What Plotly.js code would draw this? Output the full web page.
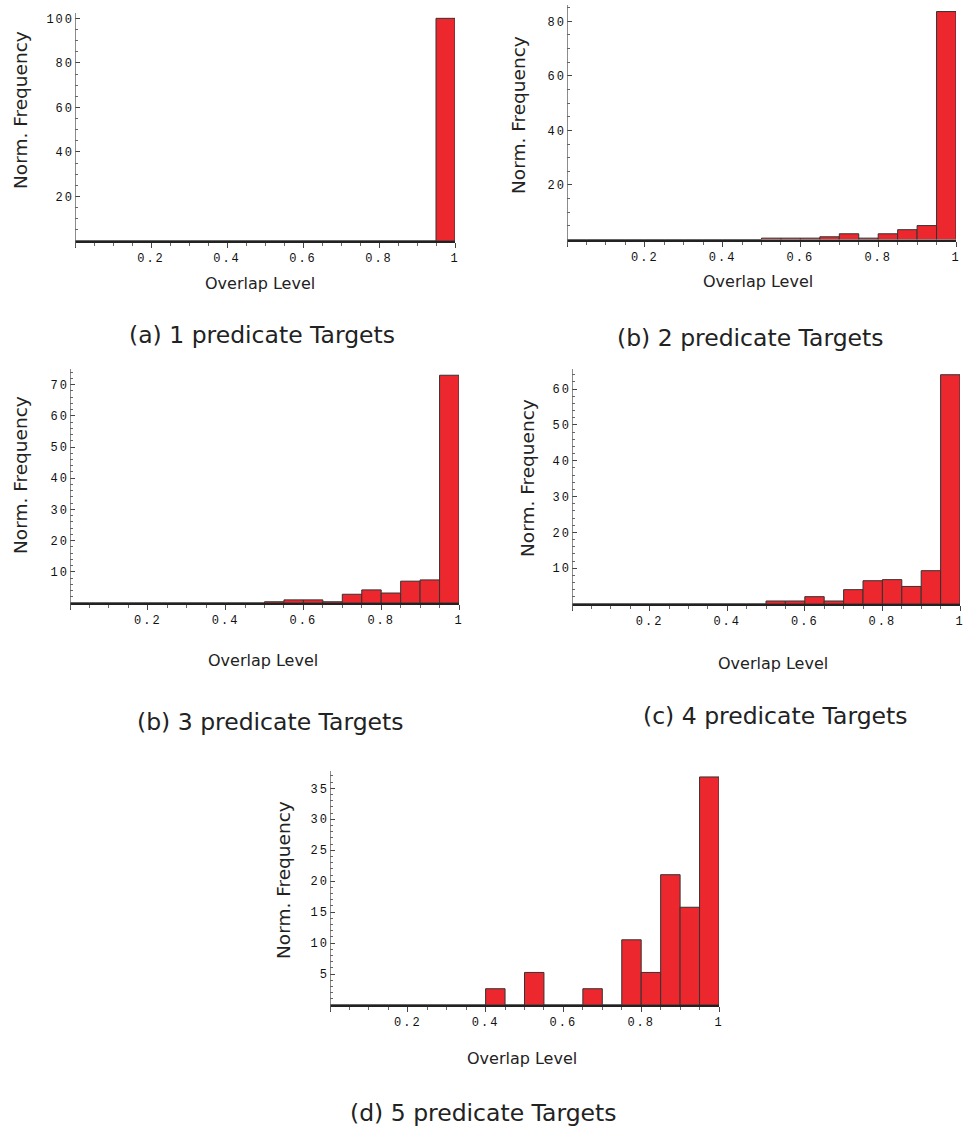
<!DOCTYPE html>
<html>
<head>
<meta charset="utf-8">
<script src="https://cdn.plot.ly/plotly-3.0.1.min.js"></script>
<style>
body{margin:0;padding:0;background:#fff;}
#chart{width:966px;height:1130px;}
.xtick text, .ytick text, .x2tick text, .y2tick text, .x3tick text, .y3tick text, .x4tick text, .y4tick text, .x5tick text, .y5tick text {letter-spacing:2px;}
</style>
</head>
<body>
<div id="chart"></div>
<script>
// Bin left edges (overlap level), width 0.05
const binStarts = [0.00,0.05,0.10,0.15,0.20,0.25,0.30,0.35,0.40,0.45,0.50,0.55,0.60,0.65,0.70,0.75,0.80,0.85,0.90,0.95];

// Normalized frequency per bin (percent)
const pred1 = [0,0,0,0,0,0,0,0,0,0,0,0,0,0,0,0,0,0,0,100];
const pred2 = [0,0,0,0,0,0,0,0,0,0,0.5,0.5,0.5,1.0,2.1,0.5,2.1,3.6,5.1,83.6];
const pred3 = [0,0,0,0,0,0,0,0,0,0,0.4,1.0,1.0,0.4,2.8,4.2,3.2,7.0,7.4,73.0];
const pred4 = [0,0,0,0,0,0,0,0,0,0,0.84,0.84,2.05,0.84,4.0,6.5,6.8,4.9,9.3,64.0];
const pred5 = [0,0,0,0,0,0,0,0,2.63,0,5.26,0,0,2.63,0,10.53,5.26,21.05,15.79,36.84];

const xTickVals = [0,0.2,0.4,0.6,0.8,1];
const xTickText = ['','0.2','0.4','0.6','0.8','1'];

const captions = ['(a) 1 predicate Targets','(b) 2 predicate Targets','(b) 3 predicate Targets','(c) 4 predicate Targets','(d) 5 predicate Targets'];
const xTitle = 'Overlap Level';
const yTitle = 'Norm. Frequency';

const yTickSets = [
  {vals:[0,20,40,60,80,100], minor:5, top:102.4},
  {vals:[0,20,40,60,80], minor:5, top:86},
  {vals:[0,10,20,30,40,50,60,70], minor:2, top:75},
  {vals:[0,10,20,30,40,50,60], minor:2, top:65.6},
  {vals:[0,5,10,15,20,25,30,35], minor:1, top:37.8}
];
const series = [pred1,pred2,pred3,pred4,pred5];

// panel pixel geometry: [xLeft, xRight, yTop, yBaseline]
const W = 966, H = 1130;
const geom = [
  [75,455,13,241],
  [567,956,5,239.5],
  [70,459,369,603],
  [572,960,369,604],
  [330,719,771,1005]
];
// text positions (pixels): caption, x title, y title
const capPos = [[262,335],[750,338],[270,722],[775,716],[483,1113]];
const xtPos = [[260,283],[758,281],[263,660],[773,663],[522,1058]];
const ytPos = [[20,110],[518,115],[20,475],[527,478],[283,880]];

const px = v => v/W;
const py = v => 1 - v/H;

const data = [];
const layout = {
  width: W, height: H,
  margin:{l:0,r:0,t:0,b:0},
  paper_bgcolor:'#fff', plot_bgcolor:'rgba(0,0,0,0)',
  showlegend:false,
  bargap:0,
  annotations:[],
  shapes:[]
};

series.forEach((vals,i)=>{
  const n = i===0 ? '' : String(i+1);
  const g = geom[i];
  data.push({
    type:'bar',
    x: binStarts,
    y: vals,
    width: 0.05,
    offset: 0,
    xaxis:'x'+n, yaxis:'y'+n,
    marker:{color:'#EC282E', line:{color:'#333333', width:1}},
    hoverinfo:'x+y'
  });
  const ys = yTickSets[i];
  layout['xaxis'+n] = {
    domain:[px(g[0]), px(g[1])],
    anchor:'y'+n,
    range:[0,1],
    showgrid:false, zeroline:false,
    showline:true, linecolor:'#222', linewidth:2,
    tickmode:'array', tickvals:xTickVals, ticktext:xTickText,
    ticks:'outside', ticklen:5, tickcolor:'#444', tickwidth:1,
    ticklabeloverflow:'allow',
    minor:{tickmode:'linear', tick0:0, dtick:0.05, ticks:'outside', ticklen:3, tickcolor:'#666', showgrid:false},
    tickfont:{family:'Liberation Mono, Courier New, monospace', size:12, color:'#111'},
    fixedrange:true
  };
  layout['yaxis'+n] = {
    domain:[py(g[3]), py(g[2])],
    anchor:'x'+n,
    range:[0, ys.top],
    showgrid:false, zeroline:false,
    showline:false,
    tickmode:'array', tickvals:ys.vals, ticktext:ys.vals.map(v=> v===0?'':String(v)),
    ticks:'inside', ticklen:5, tickcolor:'#444', tickwidth:1,
    ticklabeloverflow:'allow',
    minor:{tickmode:'linear', tick0:0, dtick:ys.minor, ticks:'inside', ticklen:3, tickcolor:'#666', showgrid:false},
    tickfont:{family:'Liberation Mono, Courier New, monospace', size:12, color:'#111'},
    fixedrange:true
  };
  // y axis line, extending slightly below the baseline
  layout.shapes.push({
    type:'line', xref:'x'+n, yref:'paper',
    x0:0, x1:0, y0:py(g[3]+6), y1:py(g[2]),
    line:{color:'#666', width:1.5}
  });
  layout.annotations.push({
    text:captions[i], xref:'paper', yref:'paper',
    x:px(capPos[i][0]), y:py(capPos[i][1]), xanchor:'center', yanchor:'middle',
    showarrow:false, font:{family:'DejaVu Sans, sans-serif', size:23.5, color:'#222'}
  });
  layout.annotations.push({
    text:xTitle, xref:'paper', yref:'paper',
    x:px(xtPos[i][0]), y:py(xtPos[i][1]), xanchor:'center', yanchor:'middle',
    showarrow:false, font:{family:'DejaVu Sans, sans-serif', size:16, color:'#222'}
  });
  layout.annotations.push({
    text:yTitle, xref:'paper', yref:'paper', textangle:-90,
    x:px(ytPos[i][0]), y:py(ytPos[i][1]), xanchor:'center', yanchor:'middle',
    showarrow:false, font:{family:'DejaVu Sans, sans-serif', size:18.5, color:'#222'}
  });
});

Plotly.newPlot('chart', data, layout, {staticPlot:true});
</script>
</body>
</html>
